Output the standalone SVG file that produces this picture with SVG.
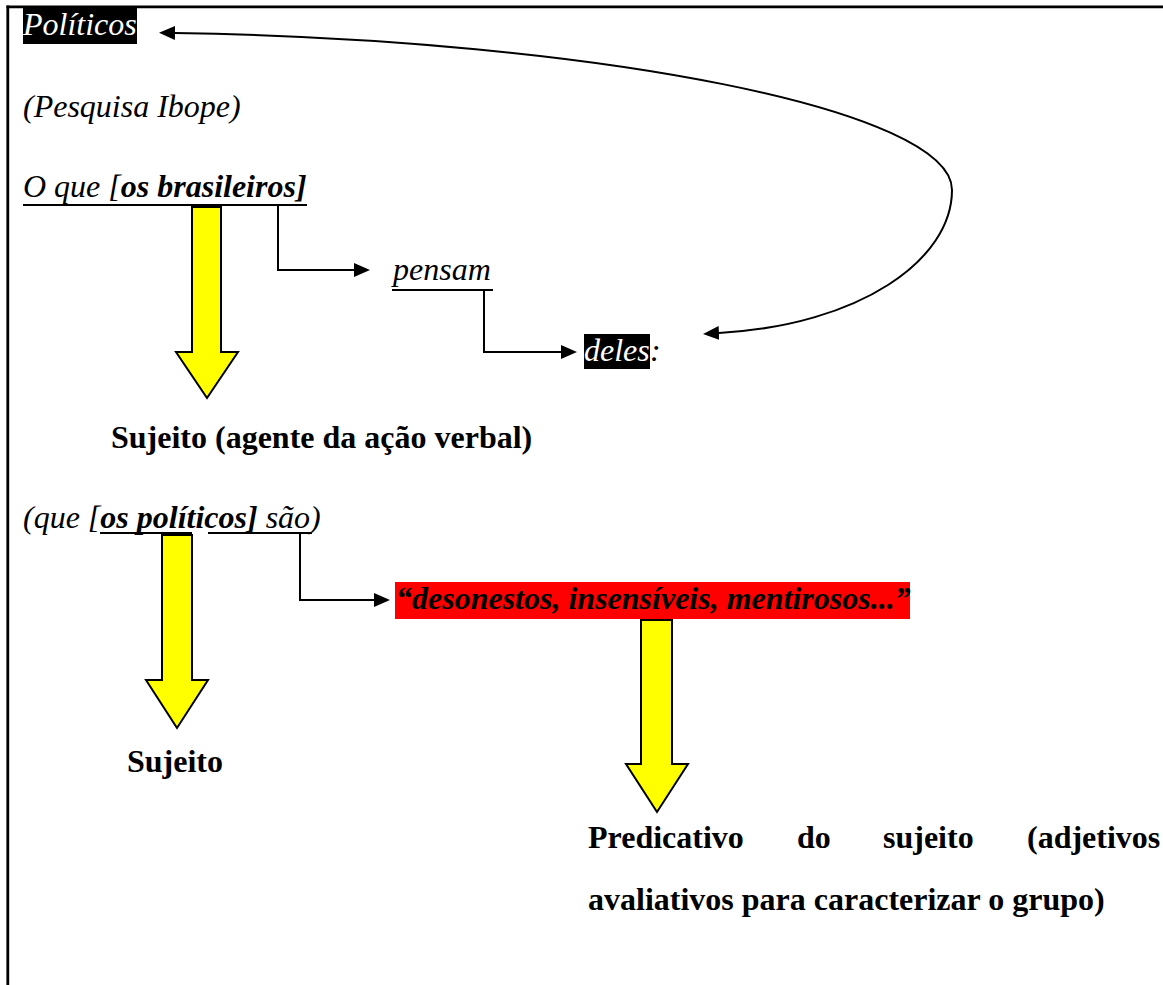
<svg xmlns="http://www.w3.org/2000/svg" width="1163" height="985" viewBox="0 0 1163 985">
  <style>
    .t { font-family: "Liberation Serif", "Times New Roman", serif; font-size: 32px; fill: #000; }
    .i { font-style: italic; }
    .b { font-weight: bold; }
    .w { fill: #fff; }
    .ul { stroke: #000; stroke-width: 2.2; }
    .frame { stroke: #000; stroke-width: 2.8; fill: none; }
    .conn { fill: none; stroke: #000; stroke-width: 2; }
    .block { fill: #ffff00; stroke: #000; stroke-width: 2; stroke-linejoin: miter; }
  </style>
  <defs>
    <marker id="head" markerUnits="userSpaceOnUse" markerWidth="16" markerHeight="14" viewBox="0 0 16 14" refX="0" refY="7" orient="auto-start-reverse">
      <path d="M0,0 L16,7 L0,14 z" fill="#000"/>
    </marker>
  </defs>

  <rect width="1163" height="985" fill="#fff"/>

  <!-- page frame: top and left rules -->
  <g id="frame">
    <line class="frame" x1="6.5" y1="6.8" x2="1163" y2="6.8"/>
    <line class="frame" x1="7.8" y1="5.5" x2="7.8" y2="985"/>
  </g>

  <g id="node-politicos">
    <rect x="23" y="7" width="114" height="37" fill="#000"/>
    <text class="t i w" x="23" y="35">Políticos</text>
  </g>

  <g id="node-pesquisa">
    <text class="t i" x="23" y="117">(Pesquisa Ibope)</text>
  </g>

  <g id="node-brasileiros">
    <text class="t i" x="23" y="197">O que [<tspan class="b">os brasileiros]</tspan></text>
    <line class="ul" x1="23" y1="205" x2="307" y2="205" stroke-width="3"/>
  </g>

  <g id="node-pensam">
    <text class="t i" x="393" y="280">pensam</text>
    <line class="ul" x1="392" y1="290" x2="493" y2="290"/>
  </g>

  <g id="node-deles">
    <rect x="584" y="334" width="66" height="35" fill="#000"/>
    <text class="t i w" x="584" y="361">deles</text>
    <text class="t i" x="650" y="361">:</text>
  </g>

  <g id="node-sujeito-agente">
    <text class="t b" x="111" y="448">Sujeito (agente da ação verbal)</text>
  </g>

  <g id="node-politicos-sao">
    <text class="t i" x="23" y="528">(que [<tspan class="b">os políticos]</tspan> são)</text>
    <line class="ul" x1="100" y1="533" x2="192" y2="533" stroke-width="3"/>
    <line class="ul" x1="208" y1="533" x2="312" y2="533" stroke-width="3"/>
  </g>

  <g id="node-adjetivos">
    <rect x="395" y="582" width="515" height="37" fill="#ff0000"/>
    <text class="t i b" x="396" y="609">“desonestos, insensíveis, mentirosos...”</text>
  </g>

  <g id="node-sujeito">
    <text class="t b" x="127" y="772">Sujeito</text>
  </g>

  <g id="node-predicativo">
    <text class="t b" y="848"><tspan x="588">Predicativo</tspan><tspan x="797">do</tspan><tspan x="883">sujeito</tspan><tspan x="1027">(adjetivos</tspan></text>
    <text class="t b" x="588" y="910">avaliativos para caracterizar o grupo)</text>
  </g>

  <g id="connectors">
    <!-- yellow block arrows -->
    <polygon class="block" points="192,207 221,207 221,352 238,352 207,398 176,352 192,352"/>
    <polygon class="block" points="162,535 192,535 192,680 208,680 177,728 146,680 162,680"/>
    <polygon class="block" points="641,620 672,620 672,764 688,764 657,812 626,764 641,764"/>

    <!-- elbow connectors -->
    <path class="conn" d="M278,206 V270 H354" marker-end="url(#head)"/>
    <path class="conn" d="M484,290 V352 H561" marker-end="url(#head)"/>
    <path class="conn" d="M300,533 V600 H374" marker-end="url(#head)"/>

    <!-- loop linking "Políticos" and "deles" -->
    <path class="conn" d="M175,33 C600,40 952,110 952,190 C952,260 860,325 719,333" marker-start="url(#head)" marker-end="url(#head)"/>
  </g>
</svg>
